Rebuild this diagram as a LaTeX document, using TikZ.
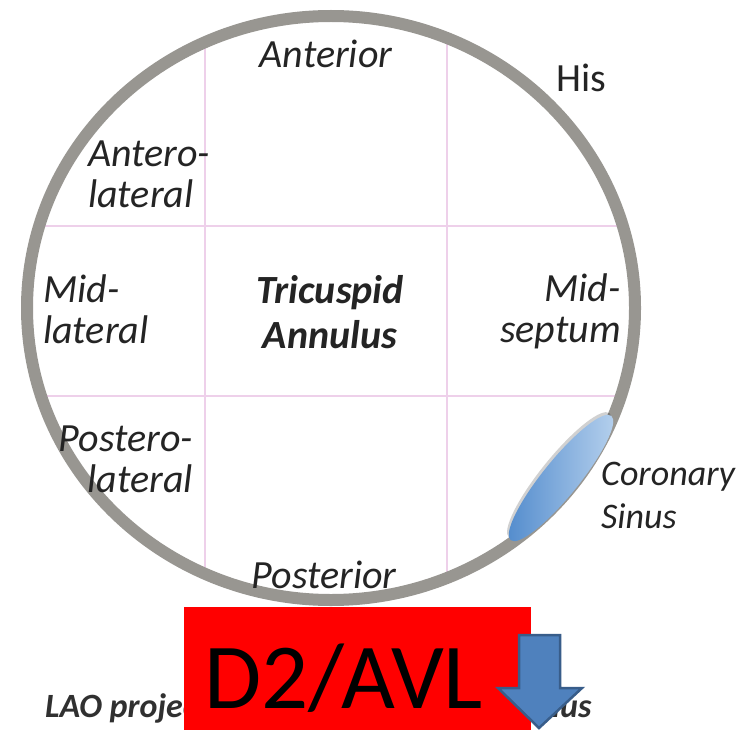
\documentclass[tikz,border=0pt]{standalone}
\usepackage{fontspec}
\setmainfont{Carlito}
\definecolor{ringgray}{RGB}{152,150,145}
\definecolor{gridpink}{RGB}{238,208,234}
\definecolor{labelink}{RGB}{36,36,36}
\definecolor{csdark}{RGB}{80,138,204}
\definecolor{cslight}{RGB}{184,210,238}
\definecolor{arrowfill}{RGB}{79,129,189}
\definecolor{arrowedge}{RGB}{56,93,138}
\definecolor{captionink}{RGB}{48,48,48}

\begin{document}
\begin{tikzpicture}[x=1pt,y=-1pt,
  lbl/.style={font=\fontsize{40}{40.5}\selectfont\itshape, text=labelink, inner sep=0pt},
  boldlbl/.style={font=\fontsize{40}{45}\selectfont\bfseries\itshape, text=labelink, inner sep=0pt, align=center},
  gridline/.style={gridpink, line width=1.3pt},
  ring/.style={ringgray, line width=12pt}]
\useasboundingbox (0,0) rectangle (743,730);
\fill[white] (0,0) rectangle (743,730);

% grid of the annulus, kept inside the ring
\begin{scope}
  \clip (331,308) ellipse [x radius=304, y radius=292];
  \draw[gridline] (205,0) -- (205,730);
  \draw[gridline] (447,0) -- (447,730);
  \draw[gridline] (0,226) -- (743,226);
  \draw[gridline] (0,396) -- (743,396);
\end{scope}

% annulus ring
\draw[ring] (331,308) ellipse [x radius=304, y radius=292];

% segment labels (two-line labels are placed by their last baseline)
\node[lbl, anchor=base] (ant) at (326,68) {Anterior};
\node[lbl, anchor=base, font=\fontsize{40}{40}\selectfont\upshape] (his) at (581,92) {His};
\node[lbl, anchor=base west, align=left] (antlat) at (88,207) {Antero-\\lateral};
\node[lbl, anchor=base west, align=left] (midlat) at (43,343) {Mid-\\lateral};
\node[boldlbl, anchor=base] (ta) at (330,348) {Tricuspid\\Annulus};
\node[lbl, anchor=base east, align=right] (midsep) at (621,342) {Mid-\\septum};
\node[lbl, anchor=base east, align=right] (postlat) at (193,492) {Postero-\\lateral};
\node[lbl, anchor=base] (post) at (324,588) {Posterior};

% coronary sinus
\begin{scope}[shift={(561,478)}, rotate=51]
  \fill[black, opacity=0.18] (1,-3) ellipse [x radius=80, y radius=18];
  \shade[left color=csdark, right color=cslight] (0,0) ellipse [x radius=80, y radius=18];
\end{scope}
\node[lbl, anchor=base west, align=left, font=\fontsize{36}{43}\selectfont\itshape] (cs) at (601,528) {Coronary\\Sinus};

% caption, partly covered by the lead box
\node[anchor=base west, inner sep=0pt, text=captionink, font=\fontsize{34}{34}\selectfont\bfseries\itshape] (caption) at (45,717) {LAO projection of the tricuspid annulus};

% lead box
\node[fill=red, minimum width=347, minimum height=123, anchor=north west, inner sep=0pt] (leadbox) at (184,607) {};
\node[anchor=base west, inner sep=0pt, font=\fontsize{93}{93}\selectfont] (lead) at (204,708) {D2/AVL};

% down arrow
\filldraw[fill=arrowfill, draw=arrowedge, line width=2.5pt, line join=miter]
  (519,635) -- (560,635) -- (560,688) -- (582,688) -- (539,728) -- (498,688) -- (519,688) -- cycle;
\end{tikzpicture}
\end{document}
